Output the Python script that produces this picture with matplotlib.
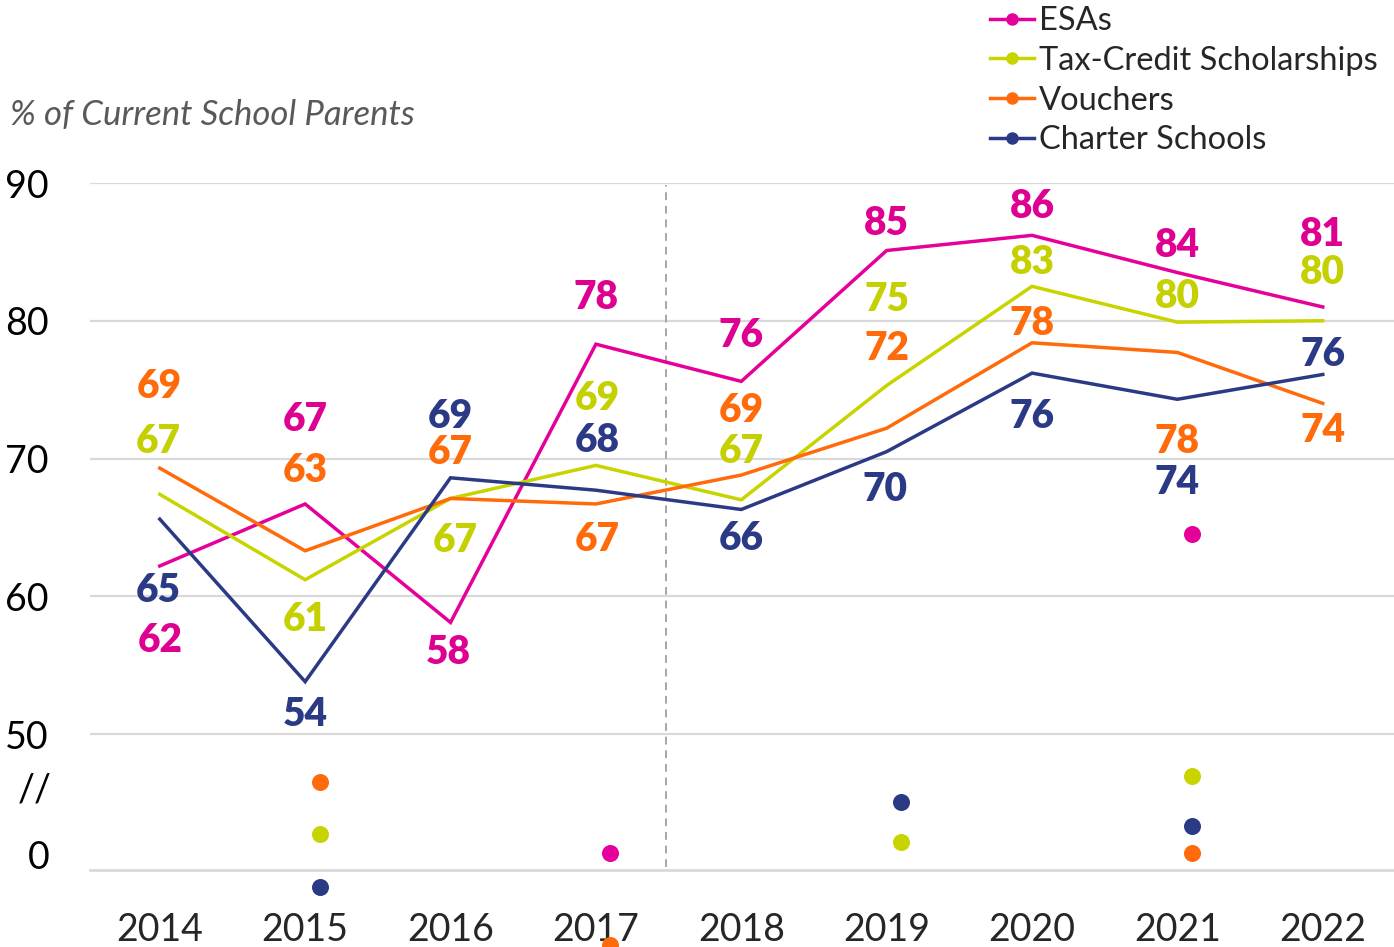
import matplotlib
matplotlib.use('Agg')
import matplotlib.pyplot as plt
from matplotlib.lines import Line2D

plt.rcParams['font.family'] = ['Lato', 'DejaVu Sans']

# Data
years = [2014, 2015, 2016, 2017, 2018, 2019, 2020, 2021, 2022]

esa      = [62.2, 66.7, 58.1, 78.3, 75.6, 85.1, 86.2, 83.5, 81.0]
tax      = [67.4, 61.2, 67.1, 69.5, 67.0, 75.3, 82.5, 79.9, 80.0]
vouchers = [69.3, 63.3, 67.1, 66.7, 68.8, 72.2, 78.4, 77.7, 74.0]
charter  = [65.6, 53.8, 68.6, 67.7, 66.3, 70.5, 76.2, 74.3, 76.1]

esa_lbl      = [62, 67, 58, 78, 76, 85, 86, 84, 81]
tax_lbl      = [67, 61, 67, 69, 67, 75, 83, 80, 80]
vouchers_lbl = [69, 63, 67, 67, 69, 72, 78, 78, 74]
charter_lbl  = [65, 54, 69, 68, 66, 70, 76, 74, 76]

# stray markers below the chart
esa_dot_x      = [2017.1, 2021.1]
esa_dot_y      = [41.34, 64.52]
tax_dot_x      = [2015.1, 2019.1, 2021.1]
tax_dot_y      = [42.72, 42.14, 46.95]
vouchers_dot_x = [2015.1, 2017.1, 2021.1]
vouchers_dot_y = [46.54, 34.68, 41.34]
charter_dot_x  = [2015.1, 2019.1, 2021.1]
charter_dot_y  = [38.91, 45.09, 43.32]

names  = ['ESAs', 'Tax-Credit Scholarships', 'Vouchers', 'Charter Schools']
colors = ['#E6009A', '#C8D400', '#FF6A0A', '#2B3A85']
lblcol = ['#DE0090', '#C4D000', '#FF6A0A', '#2B3A85']

# label offsets in pixels (dx, dy)
esa_off      = [(0, -75), (0, 84), (-2, -30), (0, 47), (0, 46), (0, 27), (0, 29), (0, 27), (0, 72)]
tax_off      = [(-2, 53), (0, -40), (5, -42), (1, 67), (0, 48), (0, 86), (0, 24), (0, 26), (0, 48)]
vouchers_off = [(0, 82), (0, 80), (0, 46), (1, -36), (0, 65), (0, 80), (0, 19), (0, -89), (0, -27)]
charter_off  = [(-2, -71), (0, -33), (0, 61), (1, 50), (0, -29), (-2, -38), (0, -43), (0, -83), (0, 20)]

series = [esa, tax, vouchers, charter]
labels = [esa_lbl, tax_lbl, vouchers_lbl, charter_lbl]
offs   = [esa_off, tax_off, vouchers_off, charter_off]
dots   = [(esa_dot_x, esa_dot_y), (tax_dot_x, tax_dot_y),
          (vouchers_dot_x, vouchers_dot_y), (charter_dot_x, charter_dot_y)]

fig = plt.figure(figsize=(13.94, 9.47), dpi=100)
ax = fig.add_axes([90/1394, 1 - 870/947, 1 - 90/1394, (870 - 183)/947])

ax.set_xlim(2013.52, 2022.49)
ax.set_ylim(40.13, 90)

for s, c in zip(series, colors):
    ax.plot(years, s, color=c, lw=2.5, solid_joinstyle='miter', zorder=3)

for s, l, o, c in zip(series, labels, offs, lblcol):
    for x, y, t, (dx, dy) in zip(years, s, l, o):
        ax.annotate(str(t), (x, y), xytext=(dx, dy), textcoords='offset pixels',
                    ha='center', va='center', fontsize=28, fontweight='heavy',
                    color=c, zorder=5)

for (dx, dy), c in zip(dots, colors):
    ax.scatter(dx, dy, s=150, color=c, zorder=4, clip_on=False, linewidths=0)

ax.axvline(2017.48, ymin=0.004, ymax=0.997, color='#A6A6A6', lw=1.4, ls=(0, (4, 3)), zorder=2)

ax.set_yticks([50, 60, 70, 80, 90])
ax.grid(axis='y', color='#D9D9D9', lw=1.6)
ax.set_axisbelow(True)
for sp in ['top', 'right', 'left']:
    ax.spines[sp].set_visible(False)
ax.spines['bottom'].set_color('#D9D9D9')
ax.spines['bottom'].set_linewidth(2)
ax.tick_params(axis='y', length=0, pad=30, labelsize=27, labelcolor='black')
ax.tick_params(axis='x', length=0, pad=30, labelsize=27, labelcolor='#262626')
ax.set_xticks(years)
for lab in ax.get_yticklabels():
    lab.set_horizontalalignment('right')

fig.text(52/1394, 1 - 790/947, '//', ha='right', va='center', fontsize=27, color='black')
fig.text(50/1394, 1 - 858/947, '0', ha='right', va='center', fontsize=27, color='black')
fig.text(10/1394, 1 - 115/947, '% of Current School Parents', ha='left', va='center',
         fontsize=25, style='italic', color='#595959')

handles = [Line2D([0], [0], color=c, lw=2.5, marker='o', markersize=8) for c in colors]
fig.legend(handles, names, loc='upper left', bbox_to_anchor=(990/1394, 1 - 6/947),
           frameon=False, fontsize=23.5, handlelength=1.35, handletextpad=0.15,
           labelspacing=0.3, borderaxespad=0, borderpad=0, labelcolor='#262626')

fig.savefig('out.png', dpi=100)
